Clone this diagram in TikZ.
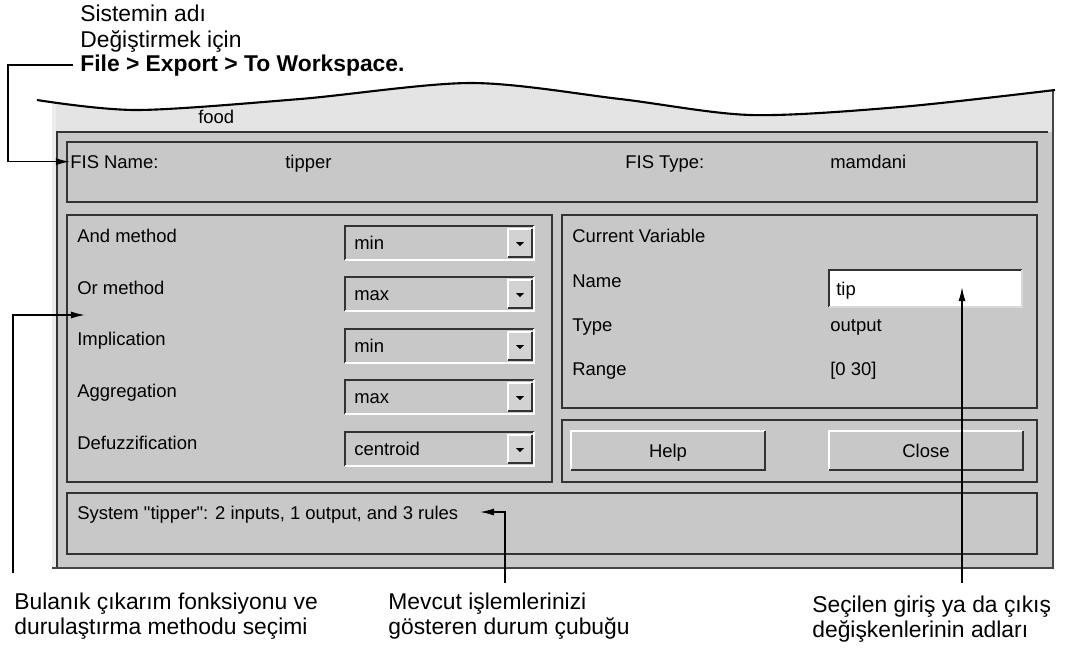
\documentclass[tikz,border=0pt]{standalone}
\usepackage{fontspec}
\setmainfont{Liberation Sans}
\newfontfamily\guifont[Ligatures=TeXOff]{Liberation Sans}
\usepackage{tikz}
\usetikzlibrary{calc, arrows, arrows.meta, positioning}
\tikzset{>={Latex[length=8pt,width=4pt]}}
\definecolor{panelgray}{HTML}{C8C8C8}
\definecolor{titlegray}{HTML}{E4E4E4}
\definecolor{btnface}{HTML}{D2D2D2}
\definecolor{edgedark}{HTML}{333333}
\tikzset{
  panel/.style={draw=edgedark, fill=panelgray, line width=1.1pt},
  guitext/.style={anchor=base west, inner sep=0pt, font=\guifont\fontsize{10.5}{12}\selectfont},
  note/.style={anchor=north west, inner sep=0pt, align=left, font=\fontsize{13}{14.8}\selectfont},
  conn/.style={->, line width=0.8pt},
}
% drop-down list: name, top y, shown value
\newcommand{\combo}[3]{%
  \fill[panelgray] (345,#2) rectangle (534,#2+34);
  \draw[line width=0.9pt, edgedark] (345,#2+34) -- (345,#2) -- (534,#2);
  \draw[line width=0.9pt, white] (345,#2+34) -- (534,#2+34) -- (534,#2);
  \fill[btnface] (508,#2+3) rectangle (532,#2+31);
  \draw[line width=0.6pt, white] (508,#2+31) -- (508,#2+3) -- (532,#2+3);
  \draw[line width=0.9pt, edgedark] (508,#2+31) -- (532,#2+31) -- (532,#2+3);
  \fill[black] (516,#2+16) -- (524,#2+16) -- (520,#2+20) -- cycle;
  \node[guitext] (#1) at (354,#2+23) {#3};
}
% push button: name, left x, right x, label
\newcommand{\guibutton}[4]{%
  \fill[panelgray] (#2,431) rectangle (#3,470);
  \draw[line width=0.9pt, white] (#2,470) -- (#2,431) -- (#3,431);
  \draw[line width=1.1pt, edgedark] (#2,470) -- (#3,470) -- (#3,431);
  \node[guitext, anchor=base] (#1) at ({(#2+#3)/2},457) {#4};
}

\begin{document}
\begin{tikzpicture}[x=0.02cm, y=-0.02cm]
\useasboundingbox (0,0) rectangle (1065,654);
\fill[white] (0,0) rectangle (1065,654);

% window under the torn edge
\begin{scope}
\clip (52,0) rectangle (1054,569);
\fill[titlegray] plot[smooth] coordinates {(37,100) (137,110) (300,99) (471,83) (620,99) (751,115) (900,107) (1055,90)} -- (1055,569) -- (37,569) -- cycle;
\end{scope}
\fill[white!93!black] (52,102) rectangle (56,568);
\fill[panelgray] (57,132) rectangle (1052,567);
\draw[edgedark, line width=0.6pt] (57,567) -- (57,132) -- (1048,132);
\draw[gray!55!black, line width=1.4pt] (1053,90) -- (1053,568) -- (52,568);
\draw[line width=1.2pt] plot[smooth] coordinates {(37,100) (137,110) (300,99) (471,83) (620,99) (751,115) (900,107) (1055,90)};
\node[guitext] (sysfood) at (198,123) {food};

% FIS row
\draw[panel] (67,142) rectangle (1037,202);
\node[guitext] (fisname) at (70,168) {FIS Name:};
\node[guitext] (fisnameval) at (285,168) {tipper};
\node[guitext] (fistype) at (625,168) {FIS Type:};
\node[guitext] (fistypeval) at (830,168) {mamdani};

% methods
\draw[panel] (67,215) rectangle (552,482);
\node[guitext] (andlbl) at (77,242) {And method};
\node[guitext] (orlbl) at (77,294) {Or method};
\node[guitext] (implbl) at (77,345) {Implication};
\node[guitext] (agglbl) at (77,397) {Aggregation};
\node[guitext] (defuzzlbl) at (77,449) {Defuzzification};
\combo{andval}{226}{min}
\combo{orval}{277}{max}
\combo{impval}{329}{min}
\combo{aggval}{380}{max}
\combo{defuzzval}{432}{centroid}

% current variable
\draw[panel] (562,215) rectangle (1037,408);
\node[guitext] (curvar) at (572,242) {Current Variable};
\node[guitext] (namelbl) at (572,287) {Name};
\node[guitext] (typelbl) at (572,331) {Type};
\node[guitext] (rangelbl) at (572,375) {Range};
\fill[white] (829,270) rectangle (1022,307);
\draw[line width=0.9pt, edgedark] (829,307) -- (829,270) -- (1022,270);
\draw[line width=0.6pt, gray!30] (829,307) -- (1022,307) -- (1022,270);
\node[guitext] (nameval) at (836,295) {tip};
\node[guitext] (typeval) at (830,331) {output};
\node[guitext] (rangeval) at (830,375) {[0 30]};

% buttons
\draw[panel] (562,420) rectangle (1037,482);
\guibutton{helpbtn}{571}{765}{Help}
\guibutton{closebtn}{829}{1023}{Close}

% status line
\draw[panel] (67,493) rectangle (1037,554);
\node[guitext] (statustext) at (77,519) {System "tipper": 2 inputs, 1 output, and 3 rules};

% notes
\node[note] (sysnote) at (80,5) {Sistemin adı\\Değiştirmek için};
\node[note, anchor=base west, inner xsep=4pt, font=\fontsize{13}{15.4}\selectfont\bfseries] (exportnote) at (73,71) {File > Export > To Workspace.};
\node[note, font=\fontsize{13}{14.2}\selectfont] (infernote) at (14,593) {Bulanık çıkarım fonksiyonu ve\\durulaştırma methodu seçimi};
\node[note, font=\fontsize{13}{14.2}\selectfont] (statusnote) at (388,593) {Mevcut işlemlerinizi\\gösteren durum çubuğu};
\node[note, font=\fontsize{13}{14.2}\selectfont] (varnote) at (812,596) {Seçilen giriş ya da çıkış\\değişkenlerinin adları};

% connectors
\coordinate (railA) at (8,0);
\coordinate (railB) at (13,573);
\coordinate (orpick) at (85,315);
\coordinate (statusfoot) at (505,583);
\coordinate (statustip) at (480,512);
\coordinate (varfoot) at (962,583);
\coordinate (vartip) at (962,287);
\draw[conn] (exportnote.west) -- (exportnote.west -| railA) |- (fisname.west);
\draw[conn] (railB) |- (orpick);
\draw[conn] (statusfoot) |- (statustip);
\draw[conn] (varfoot) -- (vartip);
\end{tikzpicture}
\end{document}
